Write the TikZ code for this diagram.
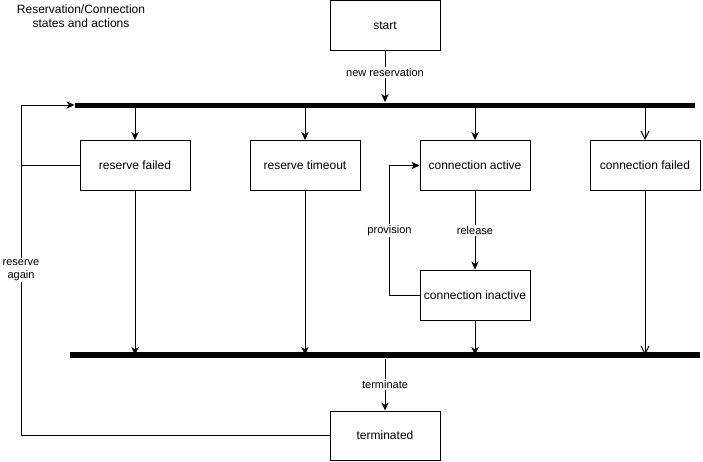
\documentclass[tikz,border=0pt]{standalone}
\usepackage{fontspec}
\setmainfont{Liberation Sans}
\usetikzlibrary{arrows.meta}
\begin{document}
\begin{tikzpicture}[x=0.75pt,y=-0.75pt,
  line width=0.75pt,
  state/.style={draw, fill=white, minimum width=82.5pt, minimum height=37.5pt,
    inner sep=0pt, font=\fontsize{9}{11}\selectfont},
  bar/.style={fill=black, inner sep=0pt},
  arr/.style={-{Stealth[length=6pt,width=5.5pt,inset=1.8pt]}},
  openarr/.style={-{Straight Barb[length=6pt,width=6pt]}},
  lbl/.style={fill=white, inner sep=1pt, font=\fontsize{8.25}{10}\selectfont},
]
\useasboundingbox (0,0) rectangle (703,461);
\fill[white] (0,0) rectangle (703,461);

% title
\node[align=center, font=\fontsize{9}{10.5}\selectfont] (title) at (81,16)
  {Reservation/Connection\\states and actions};

% synchronisation bars
\node[bar, minimum width=465pt, minimum height=3.75pt] (topbar) at (385,105) {};
\node[bar, minimum width=472.5pt, minimum height=4.5pt] (botbar) at (385,355) {};

% states
\node[state] (start) at (385,25.5) {start};
\node[state] (rf) at (135,165.5) {reserve failed};
\node[state] (rt) at (305,165.5) {reserve timeout};
\node[state] (ca) at (475,165.5) {connection active};
\node[state] (cf) at (645,165.5) {connection failed};
\node[state] (ci) at (475,295) {connection inactive};
\node[state, minimum height=36.75pt] (term) at (385,435.5) {terminated};

\coordinate (ra) at (21,105);

% entering the reservation
\draw[arr] (start.south) -- node[lbl, pos=0.42] {new reservation} (start |- topbar.north);

% fork to the outcome states
\draw[arr] (rf |- topbar.south) -- (rf.north);
\draw[arr] (rt |- topbar.south) -- (rt.north);
\draw[arr] (ca |- topbar.south) -- (ca.north);
\draw[openarr] (cf |- topbar.south) -- (cf.north);

% connection lifecycle
\draw[arr] (ca.south) -- node[lbl] {release} (ci.north);
\draw[arr] (ci.west) -- ++(-30,0) |- node[lbl, pos=0.25] {provision} (ca.west);

% join to the bottom bar
\draw[arr] (rf.south) -- (rf |- botbar.center);
\draw[arr] (rt.south) -- (rt |- botbar.center);
\draw[arr] (ci.south) -- (ci |- botbar.center);
\draw[openarr] (cf.south) -- (cf |- botbar.center);

% termination
\draw[arr] (term |- botbar.south) -- node[lbl] {terminate} (term.north);

% retry loop
\draw (rf.west) -- (rf.west -| ra);
\draw[arr] (term.west) -| node[lbl, pos=0.75, align=center, font=\fontsize{8.25}{9.5}\selectfont] {reserve\\again} (ra) -- (topbar.west);
\end{tikzpicture}
\end{document}
